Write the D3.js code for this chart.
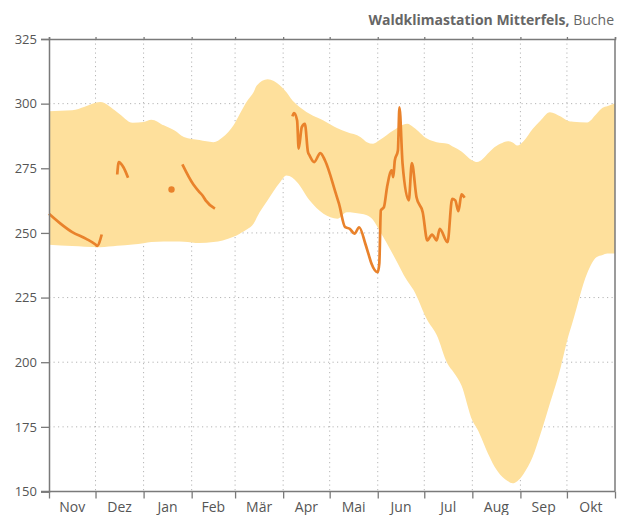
<!DOCTYPE html>
<html>
<head>
<meta charset="utf-8">
<script src="https://cdn.jsdelivr.net/npm/d3@7"></script>
<style>
  body { margin: 0; background: #fff; }
  svg text { font-family: "Open Sans", "Noto Sans", sans-serif; }
</style>
</head>
<body>
<div id="chart"></div>
<script>
// Band (range of previous years) - upper / lower envelope
const bandDates = [
  "2018-11-01","2018-11-16","2018-11-24","2018-12-04","2018-12-15","2018-12-25",
  "2019-01-01","2019-01-06","2019-01-14","2019-01-21","2019-01-27","2019-02-06",
  "2019-02-15","2019-02-21","2019-02-28","2019-03-04","2019-03-09","2019-03-13",
  "2019-03-15","2019-03-22","2019-03-30","2019-04-03","2019-04-07","2019-04-10",
  "2019-04-18","2019-04-27","2019-05-06","2019-05-12","2019-05-21","2019-05-25",
  "2019-05-29","2019-06-02","2019-06-11","2019-06-20","2019-06-24","2019-07-03",
  "2019-07-09","2019-07-16","2019-07-20","2019-07-25","2019-08-01","2019-08-04",
  "2019-08-12","2019-08-14","2019-08-19","2019-08-24","2019-08-27","2019-08-30",
  "2019-09-03","2019-09-09","2019-09-14","2019-09-20","2019-09-27","2019-10-01",
  "2019-10-05","2019-10-14","2019-10-20","2019-10-24","2019-10-27","2019-11-01"
];
const bandUpper = [
  297.1,297.4,298.8,300.6,296.7,292.6,
  292.9,293.8,291.6,289.6,287.1,285.9,
  285.1,287.0,291.6,296.0,301.2,304.5,
  307.0,309.4,307.0,304.5,301.2,299.5,
  296.1,293.5,290.5,289.0,287.0,285.1,
  284.5,285.8,289.6,292.2,290.9,286.4,
  285.1,284.5,283.2,281.5,278.0,277.4,
  281.3,282.5,284.5,285.5,285.0,283.8,
  285.5,290.3,293.5,296.7,295.0,293.5,
  293.0,292.7,296.0,298.4,299.0,300.2
];
const bandLower = [
  245.4,244.9,244.7,244.5,245.0,245.5,
  246.0,246.5,246.7,246.7,246.6,246.1,
  246.5,247.1,248.5,249.7,251.5,253.6,
  256.0,262.6,269.6,272.2,271.3,269.6,
  262.6,257.4,255.5,258.0,257.4,256.8,
  255.0,251.0,241.5,231.5,228.0,216.2,
  210.5,199.4,196.0,191.0,177.5,174.4,
  163.5,161.0,156.5,154.0,153.2,154.0,
  156.8,163.5,172.3,184.0,198.1,208.0,
  216.2,234.3,240.6,241.5,242.0,242.0
];

// Current year measurements (null = no data)
const lineDates = [
  "2018-11-01","2018-11-08","2018-11-16","2018-11-25","2018-12-01","2018-12-02","2018-12-05",
  "2018-12-10",
  "2018-12-15","2018-12-16","2018-12-19","2018-12-22",
  "2019-01-01",
  "2019-01-19",
  "2019-01-22",
  "2019-01-26","2019-02-02","2019-02-06","2019-02-08","2019-02-10","2019-02-16",
  "2019-03-01",
  "2019-04-07","2019-04-08","2019-04-10","2019-04-11","2019-04-13","2019-04-15","2019-04-17",
  "2019-04-18","2019-04-21","2019-04-25","2019-04-28","2019-05-05","2019-05-07","2019-05-11",
  "2019-05-14","2019-05-17","2019-05-20","2019-05-24","2019-05-26","2019-05-28","2019-06-01",
  "2019-06-02","2019-06-03","2019-06-05","2019-06-07","2019-06-10","2019-06-11","2019-06-12",
  "2019-06-14","2019-06-15","2019-06-17","2019-06-21","2019-06-23","2019-06-26","2019-06-30",
  "2019-07-03","2019-07-06","2019-07-09","2019-07-11","2019-07-16","2019-07-19","2019-07-21",
  "2019-07-23","2019-07-25","2019-07-27"
];
const lineValues = [
  257.4,253.8,250.3,247.7,245.5,245.0,249.4,
  null,
  272.6,277.4,275.4,271.3,
  null,
  266.8,
  null,
  276.5,268.8,265.8,264.5,262.6,259.4,
  null,
  295.1,296.3,293.5,282.6,290.9,292.2,281.3,
  280.0,277.4,280.9,278.0,265.2,261.3,252.2,
  251.6,249.7,252.2,245.8,241.9,238.1,234.8,
  238.1,258.7,260.0,267.7,274.2,271.6,278.0,
  281.9,298.6,276.8,262.6,277.0,263.8,258.0,
  247.1,249.4,247.1,251.6,246.4,263.2,262.6,
  258.4,264.9,263.6
];

const monthLabels = ["Nov","Dez","Jan","Feb","Mär","Apr","Mai","Jun","Jul","Aug","Sep","Okt"];
const yTicks = [150, 175, 200, 225, 250, 275, 300, 325];
const yDomain = [150, 325];

const parse = d3.timeParse("%Y-%m-%d");
const start = parse("2018-11-01");
const end = parse("2019-11-01");

const band = bandDates.map((d, i) => ({ date: parse(d), lo: bandLower[i], hi: bandUpper[i] }));
const series = lineDates.map((d, i) => ({ date: parse(d), value: lineValues[i] }));

const W = 617, H = 515;
const margin = { top: 39, right: 2, bottom: 23.5, left: 49 };
const width = W - margin.left - margin.right;
const height = H - margin.top - margin.bottom;

const svg = d3.select("#chart").append("svg")
  .attr("width", W)
  .attr("height", H);

const g = svg.append("g")
  .attr("transform", `translate(${margin.left},${margin.top})`);

const x = d3.scaleTime().domain([start, end]).range([0, width]);
const y = d3.scaleLinear().domain(yDomain).range([height, 0]);

const months = d3.timeMonth.range(start, d3.timeDay.offset(end, 1));

// Gridlines
g.append("g")
  .selectAll("line")
  .data(yTicks.slice(1, -1))
  .join("line")
  .attr("x1", 0).attr("x2", width)
  .attr("y1", d => y(d)).attr("y2", d => y(d))
  .attr("stroke", "#b5b5b5")
  .attr("stroke-width", 1)
  .attr("stroke-dasharray", "1.2,3.3");

g.append("g")
  .selectAll("line")
  .data(months.slice(1, -1))
  .join("line")
  .attr("x1", d => x(d)).attr("x2", d => x(d))
  .attr("y1", 0).attr("y2", height)
  .attr("stroke", "#b5b5b5")
  .attr("stroke-width", 1)
  .attr("stroke-dasharray", "1.2,3.3");

// Band
const area = d3.area()
  .curve(d3.curveMonotoneX)
  .x(d => x(d.date))
  .y0(d => y(d.lo))
  .y1(d => y(d.hi));

g.append("path")
  .datum(band)
  .attr("fill", "#fee09c")
  .attr("d", area);

// Measured line
const line = d3.line()
  .defined(d => d.value !== null)
  .curve(d3.curveMonotoneX)
  .x(d => x(d.date))
  .y(d => y(d.value));

g.append("path")
  .datum(series)
  .attr("fill", "none")
  .attr("stroke", "#e9822b")
  .attr("stroke-width", 2.7)
  .attr("stroke-linejoin", "round")
  .attr("d", line);

// isolated points
const single = series.filter((d, i) => d.value !== null &&
  (i === 0 || series[i - 1].value === null) &&
  (i === series.length - 1 || series[i + 1].value === null));

g.selectAll(".dot")
  .data(single)
  .join("circle")
  .attr("class", "dot")
  .attr("cx", d => x(d.date))
  .attr("cy", d => y(d.value))
  .attr("r", 3.2)
  .attr("fill", "#e9822b");

// Axes
const axisColor = "#7a7a7a";

const yAxis = g.append("g")
  .call(d3.axisLeft(y).tickValues(yTicks).tickSize(8).tickPadding(4));

const xAxis = g.append("g")
  .attr("transform", `translate(0,${height})`)
  .call(d3.axisBottom(x).tickValues(months).tickSize(7).tickFormat(""));

const topAxis = g.append("g")
  .call(d3.axisTop(x).tickValues(months).tickSize(2).tickFormat(""));

g.append("line")
  .attr("x1", width).attr("x2", width)
  .attr("y1", 0).attr("y2", height)
  .attr("stroke", axisColor)
  .attr("stroke-width", 1.5);

[yAxis, xAxis, topAxis].forEach(a => {
  a.select(".domain").attr("stroke", axisColor).attr("stroke-width", 1.5);
  a.selectAll(".tick line").attr("stroke", axisColor).attr("stroke-width", 1.3);
  a.selectAll("text").attr("fill", "#555").attr("font-size", 13);
});

xAxis.select(".domain").attr("d", `M-8,0H${width}`);

// Month labels centred between month boundaries
g.append("g")
  .selectAll("text")
  .data(monthLabels)
  .join("text")
  .attr("x", (d, i) => (x(months[i]) + x(months[i + 1])) / 2)
  .attr("y", height + 20)
  .attr("text-anchor", "middle")
  .attr("fill", "#555")
  .attr("font-size", 14)
  .text(d => d);

// Title
const title = svg.append("text")
  .attr("x", 614)
  .attr("y", 25)
  .attr("text-anchor", "end")
  .attr("fill", "#666")
  .attr("font-size", 14);
title.append("tspan").attr("font-weight", "bold").text("Waldklimastation Mitterfels,");
title.append("tspan").text(" Buche");
</script>
</body>
</html>
